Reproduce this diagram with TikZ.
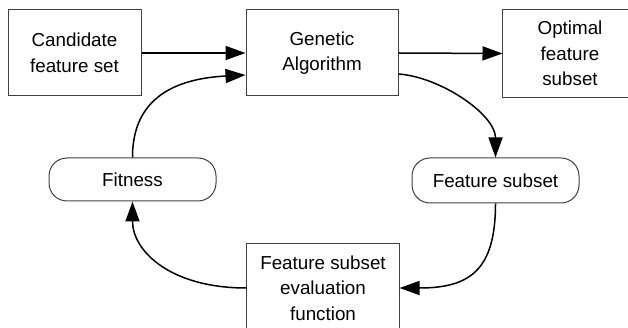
\documentclass[tikz,border=0pt]{standalone}
\usepackage{fontspec}
\setmainfont{Liberation Sans}
\usetikzlibrary{arrows.meta}
\begin{document}
\begin{tikzpicture}[x=1pt,y=-1pt,
  box/.style={draw=black!75,line width=1pt,align=center,inner sep=0pt,
    font=\fontsize{18.8}{25.5}\selectfont},
  cutbox/.style={box,draw=none},
  edge/.style={draw=black!75,line width=1pt},
  rbox/.style={box,rounded corners=18pt},
  conn/.style={line width=1.5pt,-{Triangle[length=20pt,width=14pt]}}]
\useasboundingbox (0,0) rectangle (628,328);
\node[box,minimum width=133pt,minimum height=86pt] (cand) at (74.5,53) {Candidate\\feature set};
\node[box,minimum width=152pt,minimum height=86pt] (ga) at (322,53) {Genetic\\Algorithm};
\node[cutbox,minimum width=134pt,minimum height=87pt] (opt) at (570,53.5) {Optimal\\feature\\subset};
\node[rbox,minimum width=167pt,minimum height=43pt] (fit) at (132.5,179.5) {Fitness};
\node[rbox,minimum width=167pt,minimum height=45pt] (fs) at (495.5,180.5) {Feature subset};
\node[cutbox,minimum width=152pt,minimum height=88pt] (ev) at (323,288) {Feature subset\\evaluation\\function};
% boxes cut off by the picture's edge: only their visible sides
\path[edge] ([xshift=-8pt]opt.north east) -- (opt.north west) -- (opt.south west) -- ([xshift=-8pt]opt.south east);
\path[edge] ([yshift=-4pt]ev.south west) -- (ev.north west) -- (ev.north east) -- ([yshift=-4pt]ev.south east);
\draw[conn] (cand.east) -- (ga.west);
\draw[conn] (ga.east) -- (opt.west);
\draw[conn] (fit.north) .. controls +(0,-38) and +(-96,5) .. ([yshift=-22pt]ga.west);
\draw[conn] ([yshift=-21pt]ga.east) .. controls +(42,3) and +(0,-43) .. (fs.north);
\draw[conn] (fs.south) .. controls +(0,67) and +(70,0) .. (ev.east);
\draw[conn] (ev.west) .. controls +(-77,0) and +(0,49) .. (fit.south);
\end{tikzpicture}
\end{document}
